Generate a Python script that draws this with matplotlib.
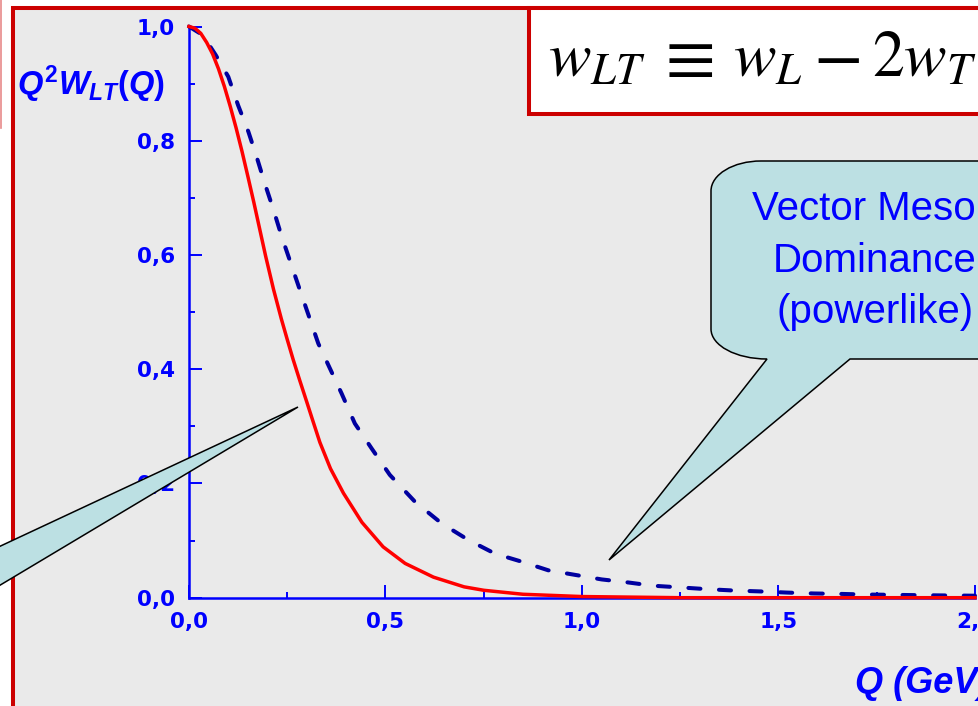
import matplotlib
matplotlib.use('Agg')
import matplotlib.pyplot as plt
import matplotlib.transforms as mtransforms
from matplotlib.patches import Rectangle, PathPatch, Polygon
from matplotlib.path import Path
from matplotlib.lines import Line2D
from matplotlib.ticker import MultipleLocator, FuncFormatter

# Q^2 W_LT(Q), exponential-like fall-off (solid red)
q_red = [0.000, 0.015, 0.030, 0.045, 0.060, 0.075, 0.090, 0.105, 0.120,
         0.135, 0.150, 0.165, 0.180, 0.195, 0.215, 0.235, 0.250, 0.265,
         0.282, 0.300, 0.315, 0.333, 0.360, 0.393, 0.440, 0.494, 0.550,
         0.622, 0.700, 0.750, 0.850, 1.000, 1.250, 1.500, 2.000]
w_red = [1.000, 0.997, 0.988, 0.972, 0.952, 0.926, 0.895, 0.860, 0.822,
         0.781, 0.737, 0.692, 0.645, 0.598, 0.540, 0.488, 0.452, 0.417,
         0.380, 0.342, 0.310, 0.272, 0.226, 0.183, 0.132, 0.089, 0.060,
         0.036, 0.019, 0.013, 0.006, 0.002, 0.000, 0.000, 0.000]

# vector meson dominance, powerlike tail (dashed)
q_vmd = [0.000, 0.035, 0.068, 0.100, 0.125, 0.151, 0.172, 0.193, 0.215,
         0.236, 0.282, 0.329, 0.388, 0.422, 0.465, 0.511, 0.575, 0.643,
         0.711, 0.779, 0.847, 0.914, 0.982, 1.050, 1.114, 1.180, 1.250,
         1.317, 1.385, 1.453, 1.520, 1.590, 1.656, 1.720, 1.790, 1.860,
         1.930, 2.000]
w_vmd = [1.000, 0.985, 0.950, 0.912, 0.862, 0.816, 0.772, 0.725, 0.679,
         0.632, 0.539, 0.445, 0.358, 0.305, 0.261, 0.215, 0.168, 0.130,
         0.101, 0.077, 0.063, 0.048, 0.040, 0.032, 0.027, 0.021, 0.018,
         0.015, 0.0126, 0.011, 0.009, 0.0074, 0.0067, 0.0056, 0.005, 0.0044,
         0.0039, 0.0035]

x_ticks = [0.0, 0.5, 1.0, 1.5, 2.0]
y_ticks = [0.0, 0.2, 0.4, 0.6, 0.8, 1.0]
bubble_lines = ['Vector Meson', 'Dominance', '(powerlike)']
# pieces of the definition w_LT = w_L - 2 w_T, with their left edges (px)
formula_parts = [(r'$w_{LT}$', 548, 46), (r'$\equiv$', 655, 52), (r'$w_L$', 733, 46),
                 (r'$-$', 813, 52), (r'$2w_T$', 872, 46)]

plt.rcParams['mathtext.fontset'] = 'custom'
plt.rcParams['mathtext.rm'] = 'Liberation Sans:bold'
plt.rcParams['mathtext.it'] = 'Liberation Sans:italic:bold'

W, H = 979, 706
fig = plt.figure(figsize=(W / 100, H / 100), dpi=100)
# pixel coordinates, origin top-left
px = mtransforms.Affine2D().scale(1.0 / W, -1.0 / H).translate(0, 1) + fig.transFigure

BLUE = '#0000ff'
RED_FRAME = '#cc0000'
BUBBLE = '#bce0e3'

# slide frame and background
fig.add_artist(Rectangle((13, 7.5), 1200, 1000, transform=px, facecolor='#eaeaea',
                         edgecolor=RED_FRAME, lw=2.9, zorder=-1))
fig.add_artist(Line2D([0.7, 0.7], [0, 128], transform=px, color='#e88a8a', lw=1.2, zorder=-1))

ax = fig.add_axes([189 / W, 1 - 597.7 / H, (975 - 189) / W, (597.7 - 26.5) / H])
ax.patch.set_visible(False)

ax.plot(q_vmd, w_vmd, color='#0000a0', lw=2.9, dashes=(3.0, 4.6),
        dash_capstyle='round', clip_on=False, zorder=3)
ax.plot(q_red, w_red, color='#ff0000', lw=2.5, clip_on=False, zorder=3)

ax.set_xlim(0, 2.0)
ax.set_ylim(0, 1.0)
for side in ['top', 'right']:
    ax.spines[side].set_visible(False)
for side in ['left', 'bottom']:
    ax.spines[side].set_color(BLUE)
    ax.spines[side].set_linewidth(1.8)

ax.set_xticks(x_ticks)
ax.set_yticks(y_ticks)
ax.xaxis.set_minor_locator(MultipleLocator(0.25))
ax.yaxis.set_minor_locator(MultipleLocator(0.1))
comma = FuncFormatter(lambda v, pos: f'{v:.1f}'.replace('.', ','))
ax.xaxis.set_major_formatter(comma)
ax.yaxis.set_major_formatter(comma)
ax.tick_params(which='major', direction='in', length=9.4, width=1.4, color=BLUE,
               labelcolor=BLUE, labelsize=15.5)
ax.tick_params(which='minor', direction='in', length=4.6, width=1.4, color=BLUE)
ax.tick_params(axis='y', which='major', pad=10)
ax.tick_params(axis='x', which='major', pad=10)
for lbl in ax.get_xticklabels() + ax.get_yticklabels():
    lbl.set_fontweight('bold')

# axis titles
fig.text(17, 95, r'$Q^2W_{LT}(Q)$', transform=px, fontsize=23.5, color=BLUE,
         ha='left', va='baseline')
fig.text(855, 693, 'Q (GeV)', transform=px, fontsize=26, family='Liberation Sans',
         style='italic', weight='bold', color=BLUE, ha='left', va='baseline')

# definition box
fig.add_artist(Rectangle((529, 7.5), 600, 106.5, transform=px, facecolor='white',
                         edgecolor=RED_FRAME, lw=2.9, zorder=3))
for s, x0, size in formula_parts:
    fig.text(x0, 77, s, transform=px, fontsize=size, math_fontfamily='stix',
             color='black', ha='left', va='baseline', zorder=4)

# speech bubble for the VMD curve
k = 0.5523
verts = [(767, 359), (609, 560), (850, 359), (1100, 359), (1100, 161), (761, 161),
         (761 - k * 50, 161), (711, 191 - k * 30), (711, 191),
         (711, 329),
         (711, 329 + k * 30), (767 - k * 56, 359), (767, 359),
         (767, 359)]
codes = [Path.MOVETO, Path.LINETO, Path.LINETO, Path.LINETO, Path.LINETO, Path.LINETO,
         Path.CURVE4, Path.CURVE4, Path.CURVE4,
         Path.LINETO,
         Path.CURVE4, Path.CURVE4, Path.CURVE4,
         Path.CLOSEPOLY]
fig.add_artist(PathPatch(Path(verts, codes), transform=px, facecolor=BUBBLE,
                         edgecolor='black', lw=1.1, zorder=5))
for line, base in zip(bubble_lines, [220, 271.7, 323.3]):
    fig.text(875, base, line, transform=px, fontsize=29, family='Liberation Sans',
             color=BLUE, ha='center', va='baseline', zorder=6)

# pointer of the other bubble, coming in from the left
fig.add_artist(Polygon([(298, 407), (-100, 593), (-100, 645)], closed=True, transform=px,
                       facecolor=BUBBLE, edgecolor='black', lw=1.1, zorder=5))

fig.savefig('out.png', dpi=100)
